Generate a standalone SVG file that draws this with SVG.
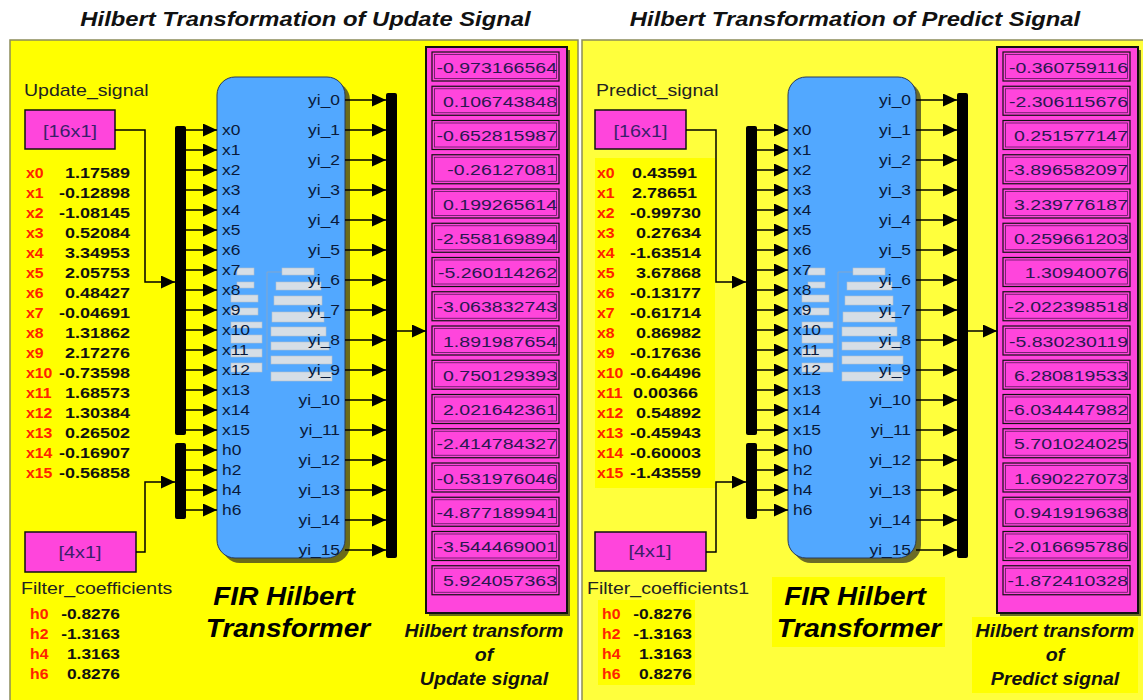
<svg xmlns="http://www.w3.org/2000/svg" width="1143" height="700" viewBox="0 0 1143 700">
<style>
text{font-family:"Liberation Sans",Arial,sans-serif}
.title{font-size:19.5px;font-weight:bold;font-style:italic;fill:#111;text-anchor:middle}
.lbl{font-size:16px;fill:#222}
.box{font-size:16.5px;fill:#3a1f6a;text-anchor:middle}
.dl{font-size:15.5px;font-weight:bold;fill:#ff2200}
.dn{font-size:15.5px;font-weight:bold;fill:#111;text-anchor:end}
.port{font-size:14.5px;fill:#0a1a3a}
.porty{font-size:14.5px;fill:#0a1a3a;text-anchor:end}
.dv{font-size:15.5px;fill:#2a1850;text-anchor:end}
.fir{font-size:25px;font-weight:bold;font-style:italic;fill:#000;text-anchor:middle}
.cap{font-size:17.5px;font-weight:bold;font-style:italic;fill:#111;text-anchor:middle}
.src{fill:#ff45dc;stroke:#111;stroke-width:1.5}
.bus{fill:#000}
.blk{fill:#52a8ff;stroke:#2a3a5a;stroke-width:1}
.shadow{fill:#3a3a20;opacity:0.75}
.disp{fill:#ff45dc;stroke:#111;stroke-width:2}
.cell{fill:#ff45dc;stroke:#111;stroke-width:1.2}
.cell2{fill:none;stroke:#5a1a5a;stroke-width:0.8}
.ln{fill:none;stroke:#000;stroke-width:1.5}
.arr{fill:none;stroke:#000;stroke-width:1.5;marker-end:url(#ah)}
.gh{fill:#d6dee6;stroke:#b4c0cc;stroke-width:0.6}
</style>
<defs>
<marker id="ah" markerUnits="userSpaceOnUse" markerWidth="14" markerHeight="13" refX="14" refY="6.5" orient="auto"><path d="M0,0 L14,6.5 L0,13 z" fill="#000"/></marker>
<g id="ghost">
<path d="M267,272 V370 M267,272 H282" stroke="#9aa8b8" stroke-width="0.7" fill="none"/>
<rect class="gh" x="237" y="268" width="17" height="7"/>
<rect class="gh" x="237" y="282" width="17" height="6"/>
<rect class="gh" x="231" y="295" width="27" height="7"/>
<rect class="gh" x="231" y="308" width="27" height="7"/>
<rect class="gh" x="231" y="322" width="31" height="6"/>
<rect class="gh" x="231" y="335" width="31" height="8"/>
<rect class="gh" x="231" y="349" width="31" height="8"/>
<rect class="gh" x="231" y="363" width="31" height="9"/>
<rect class="gh" x="282" y="268" width="32" height="7"/>
<rect class="gh" x="276" y="282" width="45" height="8"/>
<rect class="gh" x="274" y="296" width="48" height="9"/>
<rect class="gh" x="272" y="312" width="52" height="10"/>
<rect class="gh" x="271" y="327" width="55" height="9"/>
<rect class="gh" x="271" y="342" width="58" height="8"/>
<rect class="gh" x="271" y="356" width="61" height="8"/>
<rect class="gh" x="271" y="372" width="61" height="9"/>
</g>
</defs>
<rect width="1143" height="700" fill="#fff"/>
<text class="title" transform="translate(305.5 26) scale(1.22 1)">Hilbert Transformation of Update Signal</text>
<text class="title" transform="translate(855 26) scale(1.22 1)">Hilbert Transformation of Predict Signal</text>

<!-- panels -->
<rect id="panel-update" x="10" y="40" width="568" height="670" fill="#ffff00" stroke="#8c8c5a" stroke-width="1.5"/>
<rect id="panel-predict" x="582" y="40" width="570" height="670" fill="#ffff3c" stroke="#8c8c5a" stroke-width="1.5"/>
<rect x="595" y="158" width="120" height="330" fill="#ffff00"/>
<rect x="598" y="600" width="97" height="85" fill="#ffff00"/>
<rect x="772" y="577" width="173" height="70" fill="#ffff00"/>
<rect x="972" y="617" width="166" height="76" fill="#ffff00"/>

<!-- ===== LEFT ===== -->
<g id="update-signal">
<text class="lbl" transform="translate(24 96) scale(1.22 1)">Update_signal</text>
<rect class="src" x="25" y="110" width="90" height="39"/>
<text class="box" transform="translate(70 137) scale(1.2 1)">[16x1]</text>
</g>
<g id="update-values">
<text class="dl" transform="translate(26 178) scale(1.02 1)">x0</text><text class="dn" transform="translate(130 178) scale(1.16 1)">1.17589</text>
<text class="dl" transform="translate(26 198) scale(1.02 1)">x1</text><text class="dn" transform="translate(130 198) scale(1.16 1)">-0.12898</text>
<text class="dl" transform="translate(26 218) scale(1.02 1)">x2</text><text class="dn" transform="translate(130 218) scale(1.16 1)">-1.08145</text>
<text class="dl" transform="translate(26 238) scale(1.02 1)">x3</text><text class="dn" transform="translate(130 238) scale(1.16 1)">0.52084</text>
<text class="dl" transform="translate(26 258) scale(1.02 1)">x4</text><text class="dn" transform="translate(130 258) scale(1.16 1)">3.34953</text>
<text class="dl" transform="translate(26 278) scale(1.02 1)">x5</text><text class="dn" transform="translate(130 278) scale(1.16 1)">2.05753</text>
<text class="dl" transform="translate(26 298) scale(1.02 1)">x6</text><text class="dn" transform="translate(130 298) scale(1.16 1)">0.48427</text>
<text class="dl" transform="translate(26 318) scale(1.02 1)">x7</text><text class="dn" transform="translate(130 318) scale(1.16 1)">-0.04691</text>
<text class="dl" transform="translate(26 338) scale(1.02 1)">x8</text><text class="dn" transform="translate(130 338) scale(1.16 1)">1.31862</text>
<text class="dl" transform="translate(26 358) scale(1.02 1)">x9</text><text class="dn" transform="translate(130 358) scale(1.16 1)">2.17276</text>
<text class="dl" transform="translate(26 378) scale(1.02 1)">x10</text><text class="dn" transform="translate(130 378) scale(1.16 1)">-0.73598</text>
<text class="dl" transform="translate(26 398) scale(1.02 1)">x11</text><text class="dn" transform="translate(130 398) scale(1.16 1)">1.68573</text>
<text class="dl" transform="translate(26 418) scale(1.02 1)">x12</text><text class="dn" transform="translate(130 418) scale(1.16 1)">1.30384</text>
<text class="dl" transform="translate(26 438) scale(1.02 1)">x13</text><text class="dn" transform="translate(130 438) scale(1.16 1)">0.26502</text>
<text class="dl" transform="translate(26 458) scale(1.02 1)">x14</text><text class="dn" transform="translate(130 458) scale(1.16 1)">-0.16907</text>
<text class="dl" transform="translate(26 478) scale(1.02 1)">x15</text><text class="dn" transform="translate(130 478) scale(1.16 1)">-0.56858</text>
</g>
<g id="filter-coefficients">
<rect class="src" x="25" y="532" width="111" height="40"/>
<text class="box" transform="translate(80 558) scale(1.2 1)">[4x1]</text>
<text class="lbl" transform="translate(21 594) scale(1.22 1)">Filter_coefficients</text>
<text class="dl" transform="translate(30 619) scale(1.02 1)">h0</text><text class="dn" transform="translate(120 619) scale(1.12 1)">-0.8276</text>
<text class="dl" transform="translate(30 639) scale(1.02 1)">h2</text><text class="dn" transform="translate(120 639) scale(1.12 1)">-1.3163</text>
<text class="dl" transform="translate(30 659) scale(1.02 1)">h4</text><text class="dn" transform="translate(120 659) scale(1.12 1)">1.3163</text>
<text class="dl" transform="translate(30 679) scale(1.02 1)">h6</text><text class="dn" transform="translate(120 679) scale(1.12 1)">0.8276</text>
</g>
<g id="update-buses">
<rect class="bus" x="175" y="126" width="11" height="309" rx="2"/>
<rect class="bus" x="175" y="443" width="11" height="76" rx="2"/>
<rect class="bus" x="386" y="93" width="11" height="465" rx="2"/>
</g>
<g id="fir-hilbert-update">
<rect class="shadow" x="222" y="82" width="128" height="481" rx="18"/>
<rect class="blk" x="217" y="77" width="128" height="481" rx="18"/>
<use href="#ghost"/>
<text class="port" transform="translate(222 135) scale(1.2 1)">x0</text>
<text class="port" transform="translate(222 155) scale(1.2 1)">x1</text>
<text class="port" transform="translate(222 175) scale(1.2 1)">x2</text>
<text class="port" transform="translate(222 195) scale(1.2 1)">x3</text>
<text class="port" transform="translate(222 215) scale(1.2 1)">x4</text>
<text class="port" transform="translate(222 235) scale(1.2 1)">x5</text>
<text class="port" transform="translate(222 255) scale(1.2 1)">x6</text>
<text class="port" transform="translate(222 275) scale(1.2 1)">x7</text>
<text class="port" transform="translate(222 295) scale(1.2 1)">x8</text>
<text class="port" transform="translate(222 315) scale(1.2 1)">x9</text>
<text class="port" transform="translate(222 335) scale(1.2 1)">x10</text>
<text class="port" transform="translate(222 355) scale(1.2 1)">x11</text>
<text class="port" transform="translate(222 375) scale(1.2 1)">x12</text>
<text class="port" transform="translate(222 395) scale(1.2 1)">x13</text>
<text class="port" transform="translate(222 415) scale(1.2 1)">x14</text>
<text class="port" transform="translate(222 435) scale(1.2 1)">x15</text>
<text class="port" transform="translate(222 455) scale(1.2 1)">h0</text>
<text class="port" transform="translate(222 475) scale(1.2 1)">h2</text>
<text class="port" transform="translate(222 495) scale(1.2 1)">h4</text>
<text class="port" transform="translate(222 515) scale(1.2 1)">h6</text>
<text class="porty" transform="translate(340 105) scale(1.2 1)">yi_0</text>
<text class="porty" transform="translate(340 135) scale(1.2 1)">yi_1</text>
<text class="porty" transform="translate(340 165) scale(1.2 1)">yi_2</text>
<text class="porty" transform="translate(340 195) scale(1.2 1)">yi_3</text>
<text class="porty" transform="translate(340 225) scale(1.2 1)">yi_4</text>
<text class="porty" transform="translate(340 255) scale(1.2 1)">yi_5</text>
<text class="porty" transform="translate(340 285) scale(1.2 1)">yi_6</text>
<text class="porty" transform="translate(340 315) scale(1.2 1)">yi_7</text>
<text class="porty" transform="translate(340 345) scale(1.2 1)">yi_8</text>
<text class="porty" transform="translate(340 375) scale(1.2 1)">yi_9</text>
<text class="porty" transform="translate(340 405) scale(1.2 1)">yi_10</text>
<text class="porty" transform="translate(340 435) scale(1.2 1)">yi_11</text>
<text class="porty" transform="translate(340 465) scale(1.2 1)">yi_12</text>
<text class="porty" transform="translate(340 495) scale(1.2 1)">yi_13</text>
<text class="porty" transform="translate(340 525) scale(1.2 1)">yi_14</text>
<text class="porty" transform="translate(340 555) scale(1.2 1)">yi_15</text>
<text class="fir" transform="translate(284 605) scale(1.12 1)">FIR Hilbert</text>
<text class="fir" transform="translate(288 637) scale(1.12 1)">Transformer</text>
</g>
<g id="update-display">
<rect class="shadow" x="429" y="50" width="141" height="566"/>
<rect class="disp" x="426" y="47" width="141" height="566"/>
<g id="update-cells">
<rect class="cell" x="432" y="52" width="127" height="29"/><rect class="cell2" x="434.5" y="54.5" width="122" height="24"/>
<rect class="cell" x="432" y="86.25" width="127" height="29"/><rect class="cell2" x="434.5" y="88.75" width="122" height="24"/>
<rect class="cell" x="432" y="120.5" width="127" height="29"/><rect class="cell2" x="434.5" y="123" width="122" height="24"/>
<rect class="cell" x="432" y="154.75" width="127" height="29"/><rect class="cell2" x="434.5" y="157.25" width="122" height="24"/>
<rect class="cell" x="432" y="189" width="127" height="29"/><rect class="cell2" x="434.5" y="191.5" width="122" height="24"/>
<rect class="cell" x="432" y="223.25" width="127" height="29"/><rect class="cell2" x="434.5" y="225.75" width="122" height="24"/>
<rect class="cell" x="432" y="257.5" width="127" height="29"/><rect class="cell2" x="434.5" y="260" width="122" height="24"/>
<rect class="cell" x="432" y="291.75" width="127" height="29"/><rect class="cell2" x="434.5" y="294.25" width="122" height="24"/>
<rect class="cell" x="432" y="326" width="127" height="29"/><rect class="cell2" x="434.5" y="328.5" width="122" height="24"/>
<rect class="cell" x="432" y="360.25" width="127" height="29"/><rect class="cell2" x="434.5" y="362.75" width="122" height="24"/>
<rect class="cell" x="432" y="394.5" width="127" height="29"/><rect class="cell2" x="434.5" y="397" width="122" height="24"/>
<rect class="cell" x="432" y="428.75" width="127" height="29"/><rect class="cell2" x="434.5" y="431.25" width="122" height="24"/>
<rect class="cell" x="432" y="463" width="127" height="29"/><rect class="cell2" x="434.5" y="465.5" width="122" height="24"/>
<rect class="cell" x="432" y="497.25" width="127" height="29"/><rect class="cell2" x="434.5" y="499.75" width="122" height="24"/>
<rect class="cell" x="432" y="531.5" width="127" height="29"/><rect class="cell2" x="434.5" y="534" width="122" height="24"/>
<rect class="cell" x="432" y="565.75" width="127" height="29"/><rect class="cell2" x="434.5" y="568.25" width="122" height="24"/>
</g>
<text class="dv" transform="translate(557 72.5) scale(1.26 1)">-0.973166564</text>
<text class="dv" transform="translate(557 106.75) scale(1.26 1)">0.106743848</text>
<text class="dv" transform="translate(557 141) scale(1.26 1)">-0.652815987</text>
<text class="dv" transform="translate(557 175.25) scale(1.26 1)">-0.26127081</text>
<text class="dv" transform="translate(557 209.5) scale(1.26 1)">0.199265614</text>
<text class="dv" transform="translate(557 243.75) scale(1.26 1)">-2.558169894</text>
<text class="dv" transform="translate(557 278) scale(1.26 1)">-5.260114262</text>
<text class="dv" transform="translate(557 312.25) scale(1.26 1)">-3.063832743</text>
<text class="dv" transform="translate(557 346.5) scale(1.26 1)">1.891987654</text>
<text class="dv" transform="translate(557 380.75) scale(1.26 1)">0.750129393</text>
<text class="dv" transform="translate(557 415) scale(1.26 1)">2.021642361</text>
<text class="dv" transform="translate(557 449.25) scale(1.26 1)">-2.414784327</text>
<text class="dv" transform="translate(557 483.5) scale(1.26 1)">-0.531976046</text>
<text class="dv" transform="translate(557 517.75) scale(1.26 1)">-4.877189941</text>
<text class="dv" transform="translate(557 552) scale(1.26 1)">-3.544469001</text>
<text class="dv" transform="translate(557 586.25) scale(1.26 1)">5.924057363</text>
<text class="cap" transform="translate(484 637) scale(1.12 1)">Hilbert transform</text>
<text class="cap" transform="translate(484 661) scale(1.12 1)">of</text>
<text class="cap" transform="translate(484 685) scale(1.12 1)">Update signal</text>
</g>

<!-- ===== RIGHT ===== -->
<g id="predict-signal">
<text class="lbl" transform="translate(596 96) scale(1.22 1)">Predict_signal</text>
<rect class="src" x="595" y="110" width="91" height="39"/>
<text class="box" transform="translate(640.5 137) scale(1.2 1)">[16x1]</text>
</g>
<g id="predict-values">
<text class="dl" transform="translate(597 178) scale(1.02 1)">x0</text><text class="dn" transform="translate(697 178) scale(1.16 1)">0.43591</text>
<text class="dl" transform="translate(597 198) scale(1.02 1)">x1</text><text class="dn" transform="translate(697 198) scale(1.16 1)">2.78651</text>
<text class="dl" transform="translate(597 218) scale(1.02 1)">x2</text><text class="dn" transform="translate(701 218) scale(1.16 1)">-0.99730</text>
<text class="dl" transform="translate(597 238) scale(1.02 1)">x3</text><text class="dn" transform="translate(701 238) scale(1.16 1)">0.27634</text>
<text class="dl" transform="translate(597 258) scale(1.02 1)">x4</text><text class="dn" transform="translate(701 258) scale(1.16 1)">-1.63514</text>
<text class="dl" transform="translate(597 278) scale(1.02 1)">x5</text><text class="dn" transform="translate(701 278) scale(1.16 1)">3.67868</text>
<text class="dl" transform="translate(597 298) scale(1.02 1)">x6</text><text class="dn" transform="translate(701 298) scale(1.16 1)">-0.13177</text>
<text class="dl" transform="translate(597 318) scale(1.02 1)">x7</text><text class="dn" transform="translate(701 318) scale(1.16 1)">-0.61714</text>
<text class="dl" transform="translate(597 338) scale(1.02 1)">x8</text><text class="dn" transform="translate(701 338) scale(1.16 1)">0.86982</text>
<text class="dl" transform="translate(597 358) scale(1.02 1)">x9</text><text class="dn" transform="translate(701 358) scale(1.16 1)">-0.17636</text>
<text class="dl" transform="translate(597 378) scale(1.02 1)">x10</text><text class="dn" transform="translate(701 378) scale(1.16 1)">-0.64496</text>
<text class="dl" transform="translate(597 398) scale(1.02 1)">x11</text><text class="dn" transform="translate(698 398) scale(1.16 1)">0.00366</text>
<text class="dl" transform="translate(597 418) scale(1.02 1)">x12</text><text class="dn" transform="translate(701 418) scale(1.16 1)">0.54892</text>
<text class="dl" transform="translate(597 438) scale(1.02 1)">x13</text><text class="dn" transform="translate(701 438) scale(1.16 1)">-0.45943</text>
<text class="dl" transform="translate(597 458) scale(1.02 1)">x14</text><text class="dn" transform="translate(701 458) scale(1.16 1)">-0.60003</text>
<text class="dl" transform="translate(597 478) scale(1.02 1)">x15</text><text class="dn" transform="translate(701 478) scale(1.16 1)">-1.43559</text>
</g>
<g id="filter-coefficients1">
<rect class="src" x="595" y="532" width="111" height="39"/>
<text class="box" transform="translate(650 557) scale(1.2 1)">[4x1]</text>
<text class="lbl" transform="translate(587 594) scale(1.22 1)">Filter_coefficients1</text>
<text class="dl" transform="translate(602 619) scale(1.02 1)">h0</text><text class="dn" transform="translate(692 619) scale(1.12 1)">-0.8276</text>
<text class="dl" transform="translate(602 639) scale(1.02 1)">h2</text><text class="dn" transform="translate(692 639) scale(1.12 1)">-1.3163</text>
<text class="dl" transform="translate(602 659) scale(1.02 1)">h4</text><text class="dn" transform="translate(692 659) scale(1.12 1)">1.3163</text>
<text class="dl" transform="translate(602 679) scale(1.02 1)">h6</text><text class="dn" transform="translate(692 679) scale(1.12 1)">0.8276</text>
</g>
<g id="predict-buses">
<rect class="bus" x="746" y="126" width="11" height="309" rx="2"/>
<rect class="bus" x="746" y="443" width="11" height="76" rx="2"/>
<rect class="bus" x="957" y="93" width="11" height="465" rx="2"/>
</g>
<g id="fir-hilbert-predict">
<rect class="shadow" x="793" y="82" width="128" height="481" rx="18"/>
<rect class="blk" x="788" y="77" width="128" height="481" rx="18"/>
<use href="#ghost" transform="translate(571 0)"/>
<text class="port" transform="translate(793 135) scale(1.2 1)">x0</text>
<text class="port" transform="translate(793 155) scale(1.2 1)">x1</text>
<text class="port" transform="translate(793 175) scale(1.2 1)">x2</text>
<text class="port" transform="translate(793 195) scale(1.2 1)">x3</text>
<text class="port" transform="translate(793 215) scale(1.2 1)">x4</text>
<text class="port" transform="translate(793 235) scale(1.2 1)">x5</text>
<text class="port" transform="translate(793 255) scale(1.2 1)">x6</text>
<text class="port" transform="translate(793 275) scale(1.2 1)">x7</text>
<text class="port" transform="translate(793 295) scale(1.2 1)">x8</text>
<text class="port" transform="translate(793 315) scale(1.2 1)">x9</text>
<text class="port" transform="translate(793 335) scale(1.2 1)">x10</text>
<text class="port" transform="translate(793 355) scale(1.2 1)">x11</text>
<text class="port" transform="translate(793 375) scale(1.2 1)">x12</text>
<text class="port" transform="translate(793 395) scale(1.2 1)">x13</text>
<text class="port" transform="translate(793 415) scale(1.2 1)">x14</text>
<text class="port" transform="translate(793 435) scale(1.2 1)">x15</text>
<text class="port" transform="translate(793 455) scale(1.2 1)">h0</text>
<text class="port" transform="translate(793 475) scale(1.2 1)">h2</text>
<text class="port" transform="translate(793 495) scale(1.2 1)">h4</text>
<text class="port" transform="translate(793 515) scale(1.2 1)">h6</text>
<text class="porty" transform="translate(911 105) scale(1.2 1)">yi_0</text>
<text class="porty" transform="translate(911 135) scale(1.2 1)">yi_1</text>
<text class="porty" transform="translate(911 165) scale(1.2 1)">yi_2</text>
<text class="porty" transform="translate(911 195) scale(1.2 1)">yi_3</text>
<text class="porty" transform="translate(911 225) scale(1.2 1)">yi_4</text>
<text class="porty" transform="translate(911 255) scale(1.2 1)">yi_5</text>
<text class="porty" transform="translate(911 285) scale(1.2 1)">yi_6</text>
<text class="porty" transform="translate(911 315) scale(1.2 1)">yi_7</text>
<text class="porty" transform="translate(911 345) scale(1.2 1)">yi_8</text>
<text class="porty" transform="translate(911 375) scale(1.2 1)">yi_9</text>
<text class="porty" transform="translate(911 405) scale(1.2 1)">yi_10</text>
<text class="porty" transform="translate(911 435) scale(1.2 1)">yi_11</text>
<text class="porty" transform="translate(911 465) scale(1.2 1)">yi_12</text>
<text class="porty" transform="translate(911 495) scale(1.2 1)">yi_13</text>
<text class="porty" transform="translate(911 525) scale(1.2 1)">yi_14</text>
<text class="porty" transform="translate(911 555) scale(1.2 1)">yi_15</text>
<text class="fir" transform="translate(855 605) scale(1.12 1)">FIR Hilbert</text>
<text class="fir" transform="translate(859 637) scale(1.12 1)">Transformer</text>
</g>
<g id="predict-display">
<rect class="shadow" x="1000" y="50" width="141" height="566"/>
<rect class="disp" x="997" y="47" width="141" height="566"/>
<use href="#update-cells" transform="translate(571 0)"/>
<text class="dv" transform="translate(1128 72.5) scale(1.26 1)">-0.360759116</text>
<text class="dv" transform="translate(1128 106.75) scale(1.26 1)">-2.306115676</text>
<text class="dv" transform="translate(1128 141) scale(1.26 1)">0.251577147</text>
<text class="dv" transform="translate(1128 175.25) scale(1.26 1)">-3.896582097</text>
<text class="dv" transform="translate(1128 209.5) scale(1.26 1)">3.239776187</text>
<text class="dv" transform="translate(1128 243.75) scale(1.26 1)">0.259661203</text>
<text class="dv" transform="translate(1128 278) scale(1.26 1)">1.30940076</text>
<text class="dv" transform="translate(1128 312.25) scale(1.26 1)">-2.022398518</text>
<text class="dv" transform="translate(1128 346.5) scale(1.26 1)">-5.830230119</text>
<text class="dv" transform="translate(1128 380.75) scale(1.26 1)">6.280819533</text>
<text class="dv" transform="translate(1128 415) scale(1.26 1)">-6.034447982</text>
<text class="dv" transform="translate(1128 449.25) scale(1.26 1)">5.701024025</text>
<text class="dv" transform="translate(1128 483.5) scale(1.26 1)">1.690227073</text>
<text class="dv" transform="translate(1128 517.75) scale(1.26 1)">0.941919638</text>
<text class="dv" transform="translate(1128 552) scale(1.26 1)">-2.016695786</text>
<text class="dv" transform="translate(1128 586.25) scale(1.26 1)">-1.872410328</text>
<text class="cap" transform="translate(1055 637) scale(1.12 1)">Hilbert transform</text>
<text class="cap" transform="translate(1055 661) scale(1.12 1)">of</text>
<text class="cap" transform="translate(1055 685) scale(1.12 1)">Predict signal</text>
</g>

<!-- ===== CONNECTORS ===== -->
<g id="connectors">
<path class="arr" d="M115,130 H145 V282 H175"/>
<path class="arr" d="M136,552 H145 V482 H175"/>
<path class="arr" d="M397,331 H426"/>
<path class="arr" d="M686,130 H716 V282 H746"/>
<path class="arr" d="M706,552 H716 V482 H746"/>
<path class="arr" d="M968,331 H997"/>
<g id="in-left">
<path class="arr" d="M186,130 H217"/><path class="arr" d="M186,150 H217"/><path class="arr" d="M186,170 H217"/><path class="arr" d="M186,190 H217"/>
<path class="arr" d="M186,210 H217"/><path class="arr" d="M186,230 H217"/><path class="arr" d="M186,250 H217"/><path class="arr" d="M186,270 H217"/>
<path class="arr" d="M186,290 H217"/><path class="arr" d="M186,310 H217"/><path class="arr" d="M186,330 H217"/><path class="arr" d="M186,350 H217"/>
<path class="arr" d="M186,370 H217"/><path class="arr" d="M186,390 H217"/><path class="arr" d="M186,410 H217"/><path class="arr" d="M186,430 H217"/>
<path class="arr" d="M186,450 H217"/><path class="arr" d="M186,470 H217"/><path class="arr" d="M186,490 H217"/><path class="arr" d="M186,510 H217"/>
</g>
<g id="out-left">
<path class="arr" d="M345,100 H386"/><path class="arr" d="M345,130 H386"/><path class="arr" d="M345,160 H386"/><path class="arr" d="M345,190 H386"/>
<path class="arr" d="M345,220 H386"/><path class="arr" d="M345,250 H386"/><path class="arr" d="M345,280 H386"/><path class="arr" d="M345,310 H386"/>
<path class="arr" d="M345,340 H386"/><path class="arr" d="M345,370 H386"/><path class="arr" d="M345,400 H386"/><path class="arr" d="M345,430 H386"/>
<path class="arr" d="M345,460 H386"/><path class="arr" d="M345,490 H386"/><path class="arr" d="M345,520 H386"/><path class="arr" d="M345,550 H386"/>
</g>
<use href="#in-left" transform="translate(571 0)"/>
<use href="#out-left" transform="translate(571 0)"/>
</g>
</svg>
